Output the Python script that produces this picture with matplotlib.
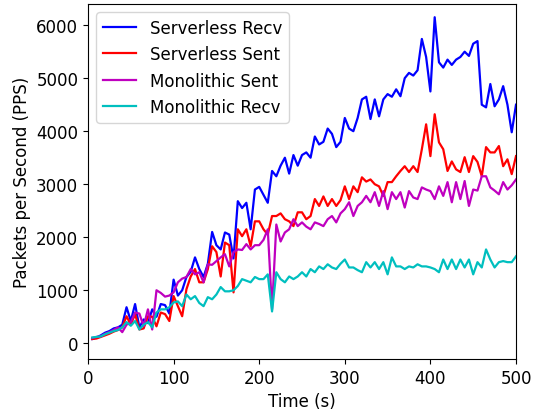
import numpy as np
import matplotlib
matplotlib.use("Agg")
import matplotlib.pyplot as plt

plt.rcParams["font.size"] = 12

# Sample times (s)
time_s = np.arange(5, 501, 5)

serverless_recv = [
    80, 110, 150, 200, 230, 280, 300, 350, 680, 420,
    740, 300, 450, 380, 640, 500, 740, 720, 560, 1200,
    900, 1000, 1250, 1350, 1620, 1400, 1250, 1500, 2100, 1850,
    1770, 2090, 2050, 1600, 2680, 2550, 2650, 2150, 2900, 2950,
    2800, 2650, 3250, 3150, 3350, 3500, 3200, 3550, 3350, 3550,
    3600, 3500, 3900, 3750, 3800, 4050, 3950, 3700, 3800, 4250,
    4050, 4000, 4250, 4600, 4650, 4230, 4600, 4280, 4600, 4700,
    4650, 4790, 4660, 5000, 5100, 5050, 5150, 5740, 5400, 4750,
    6150, 5300, 5200, 5350, 5250, 5350, 5400, 5500, 5420, 5650,
    5700, 4500, 4450, 4890, 4470, 4600, 4850, 4500, 3980, 4500,
]

serverless_sent = [
    80, 90, 120, 150, 180, 220, 250, 300, 510, 350,
    550, 260, 280, 510, 500, 320, 580, 550, 420, 890,
    700, 510, 1020, 1260, 1400, 1150, 1150, 1400, 1830, 1720,
    1260, 1900, 1850, 960, 2150, 2020, 2150, 1830, 2300, 2300,
    2150, 2050, 2400, 2400, 2450, 2340, 2300, 2210, 2470, 2470,
    2340, 2400, 2720, 2590, 2770, 2590, 2720, 2590, 2700, 2960,
    2720, 2960, 2850, 3130, 3050, 3090, 3000, 2960, 2780, 3040,
    3040, 3150, 3250, 3340, 3230, 3340, 3230, 3660, 4130, 3530,
    4320, 3790, 3660, 3250, 3430, 3280, 3230, 3510, 3230, 3530,
    3420, 3150, 3700, 3600, 3600, 3720, 3340, 3470, 3190, 3530,
]

monolithic_sent = [
    100, 120, 130, 180, 210, 250, 300, 210, 350, 400,
    580, 560, 320, 640, 260, 1000, 950, 880, 900, 960,
    1150, 1220, 1250, 1400, 1300, 1340, 1150, 1490, 1480, 1550,
    1620, 1680, 1450, 1720, 1770, 1760, 1870, 1770, 1850, 1850,
    1950, 2150, 640, 2240, 1920, 2090, 2150, 2340, 2210, 2280,
    2200, 2150, 2280, 2250, 2210, 2340, 2400, 2280, 2450, 2530,
    2660, 2400, 2590, 2660, 2780, 2660, 2850, 2590, 2870, 2530,
    2850, 2720, 2850, 2560, 2870, 2750, 2720, 2940, 2900, 2870,
    2720, 2960, 2780, 3040, 2660, 3040, 2720, 3060, 2590, 2900,
    2880, 3150, 3150, 2940, 2880, 2810, 3040, 2900, 2980, 3090,
]

monolithic_recv = [
    110, 120, 130, 170, 200, 230, 250, 300, 400, 330,
    420, 260, 350, 400, 300, 580, 640, 640, 680, 770,
    790, 700, 920, 830, 890, 760, 700, 870, 830, 920,
    1060, 980, 980, 1000, 1080, 1210, 1180, 1150, 1250, 1210,
    1210, 1300, 600, 1340, 1210, 1150, 1260, 1210, 1260, 1340,
    1260, 1400, 1340, 1450, 1400, 1490, 1430, 1400, 1500, 1580,
    1430, 1430, 1380, 1340, 1530, 1430, 1530, 1400, 1530, 1300,
    1620, 1450, 1450, 1400, 1450, 1430, 1490, 1450, 1450, 1430,
    1400, 1340, 1580, 1400, 1580, 1400, 1580, 1430, 1580, 1300,
    1530, 1430, 1770, 1580, 1430, 1530, 1550, 1530, 1530, 1640,
]

fig = plt.figure(figsize=(5.35, 4.14), dpi=100)
ax = fig.add_axes([0.1645, 0.130, 0.80, 0.858])

ax.plot(time_s, serverless_recv, color="b", lw=1.6, label="Serverless Recv")
ax.plot(time_s, serverless_sent, color="r", lw=1.6, label="Serverless Sent")
ax.plot(time_s, monolithic_sent, color="m", lw=1.6, label="Monolithic Sent")
ax.plot(time_s, monolithic_recv, color="c", lw=1.6, label="Monolithic Recv")

ax.set_xlim(0, 500)
ax.set_ylim(-300, 6400)
ax.set_yticks(range(0, 6001, 1000))
ax.set_xlabel("Time (s)")
ax.set_ylabel("Packets per Second (PPS)")
ax.legend(loc="upper left")

fig.savefig("out.png", dpi=100)
